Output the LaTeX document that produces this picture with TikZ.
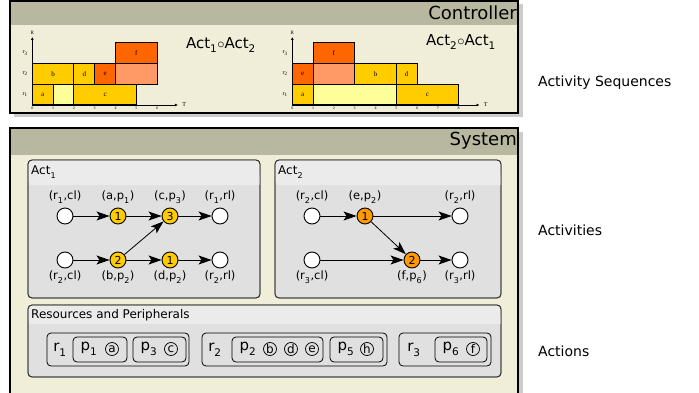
\documentclass[tikz,border=0pt]{standalone}
\usepackage{fontspec}
\setmainfont{DejaVu Sans}
\newfontfamily\chartfont{Liberation Serif}
\usetikzlibrary{arrows.meta}
\definecolor{hdr}{RGB}{184,184,160}
\definecolor{cream}{RGB}{240,238,216}
\definecolor{shad}{RGB}{204,204,204}
\definecolor{boxbg}{RGB}{224,224,224}
\definecolor{boxhd}{RGB}{235,235,235}
\definecolor{gold}{RGB}{255,204,0}
\definecolor{orng}{RGB}{255,153,0}
\definecolor{dorng}{RGB}{255,102,0}
\definecolor{lorng}{RGB}{255,153,102}
\definecolor{lyel}{RGB}{255,255,153}
\newcommand\sbs[1]{\raisebox{-0.25ex}{\textsubscript{#1}}}
\tikzset{
  outer/.style={draw=black,line width=1.2pt,fill=cream},
  hband/.style={fill=hdr},
  inbox/.style={draw=black!80,line width=0.8pt,rounded corners=4pt,fill=boxbg},
  inhd/.style={fill=boxhd,rounded corners=4pt},
  title/.style={font=\fontsize{18}{18}\selectfont,anchor=east,inner sep=0pt},
  side/.style={font=\fontsize{14}{14}\selectfont,anchor=west,inner sep=0pt},
  boxtitle/.style={font=\fontsize{12}{12}\selectfont,anchor=west,inner sep=0pt},
  st/.style={circle,draw,line width=0.9pt,fill=white,minimum size=16pt,inner sep=0pt},
  g1/.style={st,fill=gold,font=\fontsize{11}{11}\selectfont},
  g2/.style={st,fill=orng,font=\fontsize{11}{11}\selectfont},
  lbl/.style={font=\fontsize{11.5}{12}\selectfont,inner sep=0pt},
  arr/.style={-{Stealth[length=13pt,width=9pt,inset=3pt]},line width=0.8pt},
  bar/.style={draw=black,line width=1.1pt},
  blab/.style={font=\chartfont\fontsize{7}{7}\selectfont,inner sep=0pt},
  tick/.style={font=\chartfont\fontsize{4}{4}\selectfont,inner sep=0pt},
  rlab/.style={font=\chartfont\fontsize{6}{6}\selectfont,inner sep=0pt},
  axis/.style={line width=0.8pt,-{Latex[length=3pt,width=3pt]}},
  rbox/.style={draw=black,line width=0.8pt,rounded corners=4pt},
  res/.style={font=\fontsize{15}{15}\selectfont,inner sep=0pt},
  act/.style={circle,draw,line width=0.7pt,minimum size=13pt,inner sep=0pt,font=\fontsize{12}{12}\selectfont},
}
\begin{document}
\begin{tikzpicture}[x=1pt,y=-1pt]
\useasboundingbox (0,0) rectangle (699,393);
\fill[white] (0,0) rectangle (699,393);
% ---------- Controller ----------
\fill[shad] (14,4) rectangle (523,117);
\filldraw[outer] (10,1) rectangle (518,113);
\fill[hband] (10.6,1.6) rectangle (517.4,25);
\node[title] (ctitle) at (517,13) {Controller};
% chart 1
\begin{scope}[shift={(32.3,105)},x=20.8pt,y=20.8pt]
  \filldraw[bar,fill=gold] (0,0) rectangle (1,1);
  \filldraw[bar,fill=lyel] (1,0) rectangle (2,1);
  \filldraw[bar,fill=gold] (2,0) rectangle (5,1);
  \filldraw[bar,fill=gold] (0,1) rectangle (2,2);
  \filldraw[bar,fill=gold] (2,1) rectangle (3,2);
  \filldraw[bar,fill=dorng] (3,1) rectangle (4,2);
  \filldraw[bar,fill=lorng] (4,1) rectangle (6,2);
  \filldraw[bar,fill=dorng] (4,2) rectangle (6,3);
  \node[blab] (Aa) at (0.5,0.5) {a};
  \node[blab] (Ac) at (3.5,0.5) {c};
  \node[blab] (Ab) at (1,1.5) {b};
  \node[blab] (Ad) at (2.5,1.5) {d};
  \node[blab] (Ae) at (3.5,1.5) {e};
  \node[blab] (Af) at (5,2.5) {f};
  \draw[axis] (0,0) -- (7.0,0);
  \draw[axis] (0,0) -- (0,3.27);
  \node[tick] (AT) at (7.3,0) {\fontsize{6}{6}\selectfont T};
  \node[tick] (AR) at (0,3.45) {\fontsize{5}{5}\selectfont R};
  \foreach \i in {0,...,6} {\node[tick] (At\i) at (\i,-0.16) {\i};}
  \node[rlab] (Ar1) at (-0.35,0.5) {r\textsubscript{1}};
  \node[rlab] (Ar2) at (-0.35,1.5) {r\textsubscript{2}};
  \node[rlab] (Ar3) at (-0.35,2.5) {r\textsubscript{3}};
\end{scope}
\node[font=\fontsize{15}{15}\selectfont,inner sep=0pt] (seq1) at (221,45) {Act\sbs{1}$\circ$Act\sbs{2}};
% chart 2
\begin{scope}[shift={(292.3,105)},x=20.8pt,y=20.8pt]
  \filldraw[bar,fill=gold] (0,0) rectangle (1,1);
  \filldraw[bar,fill=lyel] (1,0) rectangle (5,1);
  \filldraw[bar,fill=gold] (5,0) rectangle (8,1);
  \filldraw[bar,fill=dorng] (0,1) rectangle (1,2);
  \filldraw[bar,fill=lorng] (1,1) rectangle (3,2);
  \filldraw[bar,fill=gold] (3,1) rectangle (5,2);
  \filldraw[bar,fill=gold] (5,1) rectangle (6,2);
  \filldraw[bar,fill=dorng] (1,2) rectangle (3,3);
  \node[blab] (Ba) at (0.5,0.5) {a};
  \node[blab] (Bc) at (6.5,0.5) {c};
  \node[blab] (Be) at (0.5,1.5) {e};
  \node[blab] (Bb) at (4,1.5) {b};
  \node[blab] (Bd) at (5.5,1.5) {d};
  \node[blab] (Bf) at (2,2.5) {f};
  \draw[axis] (0,0) -- (9.0,0);
  \draw[axis] (0,0) -- (0,3.27);
  \node[tick] (BT) at (9.3,0) {\fontsize{6}{6}\selectfont T};
  \node[tick] (BR) at (0,3.45) {\fontsize{5}{5}\selectfont R};
  \foreach \i in {0,...,8} {\node[tick] (Bt\i) at (\i,-0.16) {\i};}
  \node[rlab] (Br1) at (-0.35,0.5) {r\textsubscript{1}};
  \node[rlab] (Br2) at (-0.35,1.5) {r\textsubscript{2}};
  \node[rlab] (Br3) at (-0.35,2.5) {r\textsubscript{3}};
\end{scope}
\node[font=\fontsize{15}{15}\selectfont,inner sep=0pt] (seq2) at (461,42) {Act\sbs{2}$\circ$Act\sbs{1}};
% ---------- System ----------
\fill[shad] (14,132) rectangle (523,410);
\filldraw[outer] (10,128) rectangle (518,405);
\fill[hband] (10.6,128.6) rectangle (517.4,155);
\node[title] (stitle) at (517,141) {System};
% Act1 box
\filldraw[inbox] (28,160) rectangle (260,298);
\fill[inhd] (28.5,160.5) rectangle (259.5,185);
\fill[boxhd] (28.5,175) rectangle (259.5,185);
\draw[draw=black!80,line width=0.8pt,rounded corners=4pt] (28,160) rectangle (260,298);
\node[boxtitle] (act1t) at (31,172) {Act\sbs{1}};
\node[st] (p11) at (65,216) {};
\node[g1] (p12) at (118,216) {1};
\node[g1] (p13) at (170,216) {3};
\node[st] (p14) at (220,216) {};
\node[st] (p21) at (65,260) {};
\node[g1] (p22) at (118,260) {2};
\node[g1] (p23) at (170,260) {1};
\node[st] (p24) at (220,260) {};
\node[lbl] (l11) at (65,197) {(r\sbs{1},cl)};
\node[lbl] (l12) at (118,197) {(a,p\sbs{1})};
\node[lbl] (l13) at (170,197) {(c,p\sbs{3})};
\node[lbl] (l14) at (220,197) {(r\sbs{1},rl)};
\node[lbl] (l21) at (65,277) {(r\sbs{2},cl)};
\node[lbl] (l22) at (118,277) {(b,p\sbs{2})};
\node[lbl] (l23) at (170,277) {(d,p\sbs{2})};
\node[lbl] (l24) at (220,277) {(r\sbs{2},rl)};
\draw[arr] (p11) -- (p12);
\draw[arr] (p12) -- (p13);
\draw[arr] (p13) -- (p14);
\draw[arr] (p21) -- (p22);
\draw[arr] (p22) -- (p23);
\draw[arr] (p23) -- (p24);
\draw[arr] (p22) -- (p13);
% Act2 box
\filldraw[inbox] (275,160) rectangle (501,298);
\fill[inhd] (275.5,160.5) rectangle (500.5,185);
\fill[boxhd] (275.5,175) rectangle (500.5,185);
\draw[draw=black!80,line width=0.8pt,rounded corners=4pt] (275,160) rectangle (501,298);
\node[boxtitle] (act2t) at (278,172) {Act\sbs{2}};
\node[st] (q11) at (312,216) {};
\node[g2] (q12) at (365,216) {1};
\node[st] (q14) at (460,216) {};
\node[st] (q21) at (312,260) {};
\node[g2] (q23) at (412,260) {2};
\node[st] (q24) at (460,260) {};
\node[lbl] (m11) at (312,197) {(r\sbs{2},cl)};
\node[lbl] (m12) at (365,197) {(e,p\sbs{2})};
\node[lbl] (m14) at (460,197) {(r\sbs{2},rl)};
\node[lbl] (m21) at (312,277) {(r\sbs{3},cl)};
\node[lbl] (m23) at (412,277) {(f,p\sbs{6})};
\node[lbl] (m24) at (460,277) {(r\sbs{3},rl)};
\draw[arr] (q11) -- (q12);
\draw[arr] (q12) -- (q14);
\draw[arr] (q12) -- (q23);
\draw[arr] (q21) -- (q23);
\draw[arr] (q23) -- (q24);
% Resources box
\filldraw[inbox] (28,305) rectangle (501,377);
\fill[inhd] (28.5,305.5) rectangle (500.5,324);
\fill[boxhd] (28.5,315) rectangle (500.5,324);
\draw[draw=black!80,line width=0.8pt,rounded corners=4pt] (28,305) rectangle (501,377);
\node[boxtitle] (rest) at (31,315) {Resources and Peripherals};
% r1
\draw[rbox] (47,333) rectangle (189,366);
\node[res] (r1) at (60,350) {r\sbs{1}};
\draw[rbox] (73,337) rectangle (127,362);
\node[res] (pp1) at (89,349) {p\sbs{1}};
\node[act] (aa) at (112,349) {a};
\draw[rbox] (133,337) rectangle (186,362);
\node[res] (pp3) at (149,349) {p\sbs{3}};
\node[act] (ac) at (171,349) {c};
% r2
\draw[rbox] (202,333) rectangle (387,366);
\node[res] (r2) at (215,350) {r\sbs{2}};
\draw[rbox] (232,337) rectangle (323,362);
\node[res] (pp2) at (248,349) {p\sbs{2}};
\node[act] (ab) at (270,349) {b};
\node[act] (ad) at (291,349) {d};
\node[act] (ae) at (312,349) {e};
\draw[rbox] (330,337) rectangle (383,362);
\node[res] (pp5) at (346,349) {p\sbs{5}};
\node[act] (ah) at (367,349) {h};
% r3
\draw[rbox] (399,333) rectangle (491,366);
\node[res] (r3) at (414,350) {r\sbs{3}};
\draw[rbox] (435,337) rectangle (487,362);
\node[res] (pp6) at (451,349) {p\sbs{6}};
\node[act] (af) at (473,349) {f};
% ---------- side labels ----------
\node[side] (s1) at (538,83) {Activity Sequences};
\node[side] (s2) at (538,230) {Activities};
\node[side] (s3) at (538,351) {Actions};
\end{tikzpicture}
\end{document}
